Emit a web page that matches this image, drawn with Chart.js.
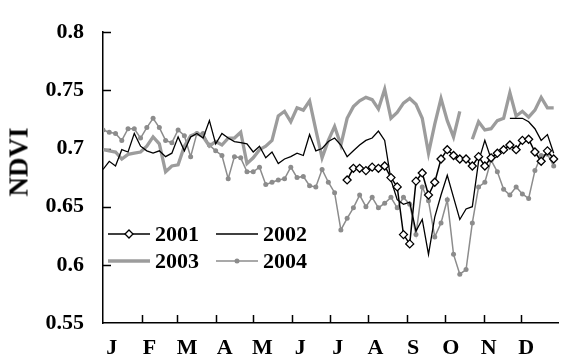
<!DOCTYPE html>
<html>
<head>
<meta charset="utf-8">
<title>NDVI</title>
<script src="https://cdn.jsdelivr.net/npm/chart.js@4.4.1/dist/chart.umd.min.js"></script>
<style>
  html, body { margin: 0; padding: 0; background: #fff; }
  #wrap { position: relative; width: 564px; height: 362px; overflow: hidden; }
  #legend { position: absolute; left: 104px; top: 216px; width: 216px; padding: 2px 0 0 4px;
            border-top: 2px solid #fff; border-bottom: 2px solid #fff;
            font: bold 22px "Liberation Serif", "Times New Roman", serif; color: #000; }
  .row { display: flex; height: 27px; align-items: center; }
  .item { display: flex; align-items: center; width: 110px; }
  .item svg { margin-right: 5px; flex: none; }
  #titulo { position: absolute; left: 19px; top: 162px; transform: translate(-50%, -50%) rotate(-90deg);
            font: bold 27px "Liberation Serif", "Times New Roman", serif; color: #000; white-space: nowrap; }
</style>
</head>
<body>
<div id="wrap">
  <canvas id="grafico" width="564" height="362"></canvas>
  <div id="legend"></div>
  <div id="titulo">NDVI</div>
</div>
<script>
// month labels and calendar
var monthLabels = ['J', 'F', 'M', 'A', 'M', 'J', 'J', 'A', 'S', 'O', 'N', 'D'];
var monthDays = [31, 28, 31, 30, 31, 30, 31, 31, 30, 31, 30, 31];

// 73 five-day composites, day of year of each one
var pentads = [];
for (var p = 0; p < 73; p++) { pentads.push(p * 5); }

var ndvi2001 = [
  null, null, null, null, null, null, null, null, null, null,
  null, null, null, null, null, null, null, null, null, null,
  null, null, null, null, null, null, null, null, null, null,
  null, null, null, null, null, null, null, null, null, 0.673,
  0.683, 0.683, 0.681, 0.684, 0.683, 0.685, 0.675, 0.667, 0.626, 0.618,
  0.672, 0.679, 0.660, 0.671, 0.691, 0.699, 0.694, 0.691, 0.691, 0.685,
  0.693, 0.685, 0.692, 0.696, 0.699, 0.703, 0.699, 0.707, 0.708, 0.697,
  0.689, 0.698, 0.691
];
var ndvi2002 = [
  0.682, 0.689, 0.685, 0.699, 0.697, 0.713, 0.702, 0.698, 0.696, 0.698,
  0.693, 0.696, 0.710, 0.698, 0.710, 0.713, 0.709, 0.724, 0.704, 0.713,
  0.709, 0.706, 0.705, 0.704, 0.697, 0.702, 0.692, 0.697, 0.687, 0.691,
  0.693, 0.696, 0.694, 0.712, 0.698, 0.700, 0.706, 0.709, 0.703, 0.693,
  0.698, 0.703, 0.707, 0.709, 0.715, 0.707, 0.673, 0.656, 0.652, 0.654,
  0.629, 0.639, 0.609, 0.641, 0.660, 0.677, 0.658, 0.639, 0.648, 0.650,
  0.689, 0.707, 0.691, 0.693, null, 0.726, 0.726, 0.726, 0.723, 0.717,
  0.707, 0.712, 0.696
];
var ndvi2003 = [
  0.699, 0.698, 0.697, 0.691, 0.695, 0.696, 0.697, 0.702, 0.710, 0.704,
  0.680, 0.685, 0.686, 0.702, 0.711, 0.713, 0.710, 0.702, 0.706, 0.703,
  0.709, 0.709, 0.714, 0.687, 0.692, 0.699, 0.702, 0.707, 0.728, 0.732,
  0.723, 0.735, 0.733, 0.741, 0.716, 0.692, 0.707, 0.719, 0.703, 0.726,
  0.736, 0.741, 0.744, 0.742, 0.734, 0.751, 0.726, 0.731, 0.739, 0.743,
  0.738, 0.726, 0.696, 0.721, 0.743, 0.724, 0.710, 0.732, null, 0.708,
  0.723, 0.716, 0.717, 0.724, 0.726, 0.748, 0.728, 0.732, 0.727, 0.733,
  0.744, 0.735, 0.735
];
var ndvi2004 = [
  0.716, 0.714, 0.713, 0.707, 0.717, 0.717, 0.709, 0.718, 0.726, 0.718,
  0.707, 0.705, 0.716, 0.711, 0.693, 0.713, 0.713, 0.703, 0.698, 0.694,
  0.674, 0.693, 0.692, 0.680, 0.680, 0.684, 0.669, 0.671, 0.673, 0.674,
  0.684, 0.675, 0.676, 0.668, 0.667, 0.682, 0.671, 0.662, 0.630, 0.640,
  0.649, 0.660, 0.650, 0.658, 0.649, 0.653, 0.658, 0.649, 0.658, 0.652,
  0.626, 0.667, 0.655, 0.624, 0.636, 0.656, 0.609, 0.592, 0.596, 0.636,
  0.667, 0.671, 0.690, 0.680, 0.665, 0.660, 0.667, 0.661, 0.657, 0.681,
  0.694, 0.695, 0.685
];

function pontos(valores) {
  return valores.map(function(v, i) { return { x: pentads[i], y: v }; });
}

// month boundaries (day of year) for the inner tick marks
var inicioMes = [];
var acumulado = 0;
monthDays.forEach(function(d) { inicioMes.push(acumulado); acumulado += d; });

var fonte = { family: '"Liberation Serif", "Times New Roman", serif', size: 22, weight: 'bold' };

// inner tick marks on both axes
var marcasInternas = {
  id: 'marcasInternas',
  beforeDatasetsDraw: function(chart) {
    var ctx = chart.ctx, area = chart.chartArea;
    var sx = chart.scales.x, sy = chart.scales.y;
    ctx.save();
    ctx.strokeStyle = '#000';
    ctx.lineWidth = 1.5;
    ctx.beginPath();
    inicioMes.slice(1).forEach(function(d) {
      var px = Math.round(sx.getPixelForValue(d)) + 0.5;
      ctx.moveTo(px, area.bottom);
      ctx.lineTo(px, area.bottom - 8);
    });
    sy.ticks.forEach(function(t) {
      if (t.value <= sy.min + 1e-9) return;
      var py = Math.round(sy.getPixelForValue(t.value)) + 0.5;
      ctx.moveTo(area.left, py);
      ctx.lineTo(area.left + 8, py);
    });
    ctx.stroke();
    ctx.restore();
  }
};

// html legend built from the datasets
var legendaHtml = {
  id: 'legendaHtml',
  afterUpdate: function(chart) {
    var box = document.getElementById('legend');
    box.innerHTML = '';
    var row;
    chart.data.datasets.forEach(function(ds, i) {
      if (i % 2 === 0) {
        row = document.createElement('div');
        row.className = 'row';
        box.appendChild(row);
      }
      var item = document.createElement('div');
      item.className = 'item';
      var marca = '';
      if (ds.pointStyle === 'rectRot') {
        marca = '<polygon points="21,2 25,6 21,10 17,6" fill="#fff" stroke="' + ds.borderColor + '" stroke-width="1.3"/>';
      } else if (ds.pointRadius > 0) {
        marca = '<circle cx="21" cy="6" r="2.5" fill="' + ds.pointBackgroundColor + '"/>';
      }
      item.innerHTML = '<svg width="42" height="12" viewBox="0 0 42 12">' +
        '<line x1="0" y1="6" x2="42" y2="6" stroke="' + ds.borderColor + '" stroke-width="' + ds.borderWidth + '"/>' +
        marca + '</svg><span>' + ds.label + '</span>';
      row.appendChild(item);
    });
  }
};

var ctx = document.getElementById('grafico').getContext('2d');
var chart = new Chart(ctx, {
  type: 'line',
  data: {
    datasets: [{
      label: '2001',
      data: pontos(ndvi2001),
      borderColor: '#000',
      borderWidth: 1.5,
      pointStyle: 'rectRot',
      pointRadius: 4,
      pointBorderWidth: 1.3,
      pointBackgroundColor: '#fff',
      pointBorderColor: '#000'
    }, {
      label: '2002',
      data: pontos(ndvi2002),
      borderColor: '#000',
      borderWidth: 1.3,
      pointRadius: 0
    }, {
      label: '2003',
      data: pontos(ndvi2003),
      borderColor: '#9c9c9c',
      borderWidth: 3.3,
      pointRadius: 0
    }, {
      label: '2004',
      data: pontos(ndvi2004),
      borderColor: '#8c8c8c',
      borderWidth: 1.5,
      pointStyle: 'circle',
      pointRadius: 2.5,
      pointBorderWidth: 0,
      pointBackgroundColor: '#8c8c8c'
    }]
  },
  options: {
    responsive: false,
    animation: false,
    devicePixelRatio: 1,
    layout: { padding: { top: 21, right: 0, bottom: 0, left: 0 } },
    plugins: { legend: { display: false }, tooltip: { enabled: false } },
    elements: { line: { tension: 0 } },
    scales: {
      x: {
        type: 'linear',
        min: 0,
        max: 364,
        grid: { display: false, drawTicks: false },
        border: { display: true, color: '#000', width: 1.5 },
        afterBuildTicks: function(scale) {
          // labels sit a little after each month start, evenly spaced
          scale.ticks = monthLabels.map(function(m, i) { return { value: 7 + i * 30.1 }; });
        },
        afterFit: function(scale) { scale.height = 39; },
        ticks: {
          autoSkip: false,
          maxRotation: 0,
          padding: 12,
          color: '#000',
          font: fonte,
          callback: function(v, i) { return monthLabels[i]; }
        }
      },
      y: {
        min: 0.55,
        max: 0.8,
        grid: { display: false, drawTicks: false },
        border: { display: true, color: '#000', width: 1.5 },
        afterFit: function(scale) { scale.width = 103; },
        ticks: {
          stepSize: 0.05,
          padding: 19,
          color: '#000',
          font: fonte,
          callback: function(v) { return String(Math.round(v * 100) / 100); }
        }
      }
    }
  },
  plugins: [marcasInternas, legendaHtml]
});
</script>
</body>
</html>
